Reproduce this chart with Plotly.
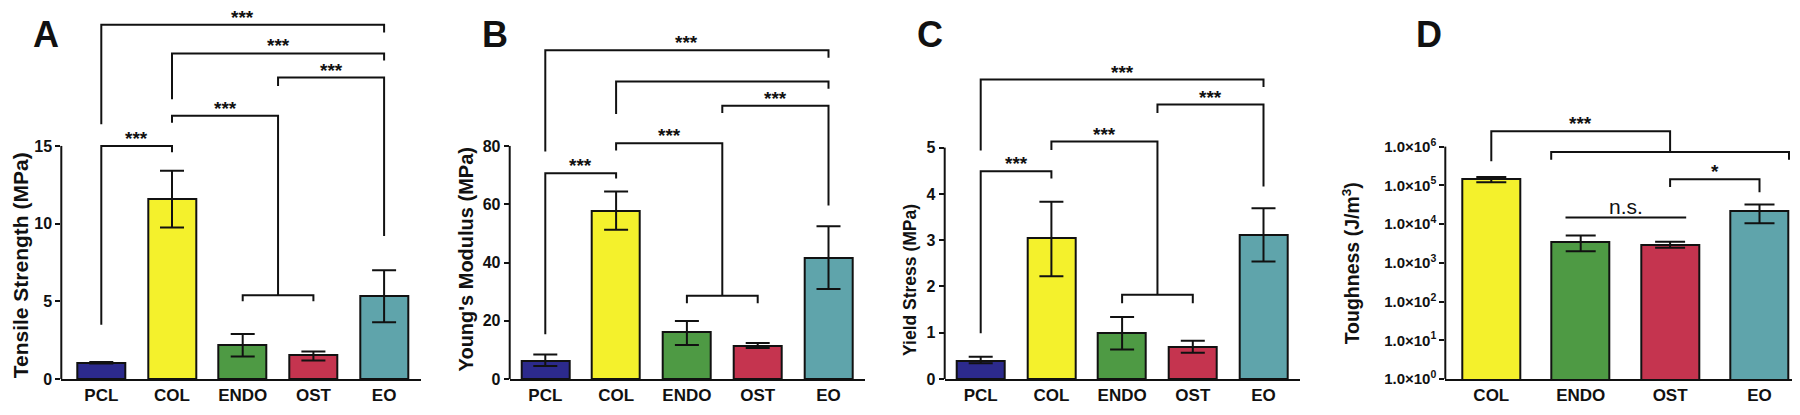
import plotly.graph_objects as go

# ---------------- data ----------------
groups5 = ["PCL", "COL", "ENDO", "OST", "EO"]
groups4 = ["COL", "ENDO", "OST", "EO"]
group_colors = {"PCL": "#2c2a8c", "COL": "#f4f12c", "ENDO": "#4e9a44",
                "OST": "#c5344f", "EO": "#5fa4ab"}

tensile_mean = [1.05, 11.6, 2.2, 1.55, 5.35]
tensile_plus = [0.05, 1.8, 0.7, 0.23, 1.65]
tensile_minus = [0.05, 1.85, 0.75, 0.35, 1.7]

modulus_mean = [6.2, 57.7, 16.0, 11.5, 41.5]
modulus_plus = [2.2, 6.7, 3.9, 0.9, 10.9]
modulus_minus = [1.7, 6.5, 4.3, 0.8, 10.6]

yield_mean = [0.39, 3.04, 0.99, 0.69, 3.11]
yield_plus = [0.09, 0.79, 0.35, 0.14, 0.58]
yield_minus = [0.05, 0.82, 0.35, 0.12, 0.57]

tough_mean = [1.44e5, 3.5e3, 2.9e3, 2.2e4]
tough_upper = [1.65e5, 5.1e3, 3.5e3, 3.2e4]
tough_lower = [1.2e5, 2.0e3, 2.45e3, 1.05e4]

tensile_ticks = [0, 5, 10, 15]
modulus_ticks = [0, 20, 40, 60, 80]
yield_ticks = [0, 1, 2, 3, 4, 5]
tough_ticks = [1e0, 1e1, 1e2, 1e3, 1e4, 1e5, 1e6]
tough_ticktext = ["1.0×10<sup>%d</sup>" % i for i in range(7)]

# significance brackets: (x_left, x_right, y_bar, y_left_end, y_right_end, label)
brackets_A = [(0, 1, 15.0, 3.5, 14.6, "***"),
              (1, 2.5, 16.95, 16.5, 5.4, "***"),
              (2, 3, 5.4, 5.0, 5.0, ""),
              (2.5, 4, 19.4, 18.85, 9.2, "***"),
              (1, 4, 20.95, 18.0, 20.5, "***"),
              (0, 4, 22.8, 16.4, 22.3, "***")]
brackets_B = [(0, 1, 70.6, 15.4, 68.8, "***"),
              (1, 2.5, 80.9, 78.4, 28.6, "***"),
              (2, 3, 28.6, 26.0, 26.0, ""),
              (2.5, 4, 93.8, 91.3, 59.6, "***"),
              (1, 4, 102.1, 91.0, 99.6, ""),
              (0, 4, 112.8, 78.1, 110.3, "***")]
brackets_C = [(0, 1, 4.49, 0.99, 4.33, "***"),
              (1, 2.5, 5.13, 4.95, 1.82, "***"),
              (2, 3, 1.82, 1.64, 1.64, ""),
              (2.5, 4, 5.93, 5.75, 4.16, "***"),
              (0, 4, 6.47, 4.94, 6.31, "***")]
# panel D brackets in decades (log10 units)
brackets_D = [(0, 2, 6.4, 5.62, 5.86, "***"),
              (0.67, 3.33, 5.86, 5.66, 5.66, ""),
              (2, 3, 5.16, 4.96, 4.82, "*")]
ns_line_D = (0.83, 2.18, 4.17, "n.s.")

# ---------------- figure ----------------
W, H = 1800, 415
FONT = "Liberation Sans, Arial, Helvetica, sans-serif"
INK = "#111111"
fig = go.Figure()

def px_x(p):
    return p / W

def px_y(p):
    return 1 - p / H

panels = [
    dict(x="x", y="y", xa="xaxis", ya="yaxis", groups=groups5, mean=tensile_mean,
         plus=tensile_plus, minus=tensile_minus, ticks=tensile_ticks, top=15,
         xpx=(53.3, 413.0), first=93.3, step=70.7, toppx=141.0, bw=0.68, cap=12,
         title="Tensile Strength (MPa)", title_x=12, title_y=263, title_size=21,
         letter="A", letter_x=38, brackets=brackets_A),
    dict(x="x2", y="y2", xa="xaxis2", ya="yaxis2", groups=groups5, mean=modulus_mean,
         plus=modulus_plus, minus=modulus_minus, ticks=modulus_ticks, top=80,
         xpx=(501.7, 856.7), first=537.3, step=70.8, toppx=141.0, bw=0.68, cap=12,
         title="Young's Modulus (MPa)", title_x=458, title_y=257, title_size=20,
         letter="B", letter_x=487, brackets=brackets_B),
    dict(x="x3", y="y3", xa="xaxis3", ya="yaxis3", groups=groups5, mean=yield_mean,
         plus=yield_plus, minus=yield_minus, ticks=yield_ticks, top=5,
         xpx=(936.7, 1291.7), first=972.7, step=70.7, toppx=142.7, bw=0.68, cap=12,
         title="Yield Stress (MPa)", title_x=902, title_y=278, title_size=17.5,
         letter="C", letter_x=922, brackets=brackets_C),
]

ZERO_PX = 379.3
shapes = []
annotations = []

def add_brackets(brs, xref, yref):
    for (xl, xr, yb, yl, yr, lab) in brs:
        path = "M %s,%s L %s,%s L %s,%s L %s,%s" % (xl, yl, xl, yb, xr, yb, xr, yr)
        shapes.append(dict(type="path", path=path, xref=xref, yref=yref,
                           line=dict(color=INK, width=2)))
        if lab:
            annotations.append(dict(x=(xl + xr) / 2, y=yb, xref=xref, yref=yref,
                                    text=lab, showarrow=False, yanchor="bottom",
                                    yshift=-4, borderpad=0,
                                    font=dict(family=FONT, size=19, color=INK,
                                              weight="bold")))

for p in panels:
    n = len(p["groups"])
    fig.add_trace(go.Bar(
        x=list(range(n)), y=p["mean"], xaxis=p["x"], yaxis=p["y"],
        width=p["bw"],
        marker=dict(color=[group_colors[g] for g in p["groups"]],
                    line=dict(color=INK, width=2)),
        error_y=dict(type="data", symmetric=False, array=p["plus"],
                     arrayminus=p["minus"], color=INK, thickness=2,
                     width=p["cap"]),
        showlegend=False))
    x0px, x1px = p["xpx"]
    r0 = (x0px - p["first"]) / p["step"]
    r1 = (x1px - p["first"]) / p["step"]
    ytop = p["top"] * ZERO_PX / (ZERO_PX - p["toppx"])
    fig.update_layout(**{
        p["xa"]: dict(domain=[px_x(x0px), px_x(x1px)], range=[r0, r1],
                      anchor=p["y"], tickvals=list(range(n)), ticktext=p["groups"],
                      showline=True, linewidth=2, linecolor=INK,
                      ticks="", showgrid=False, zeroline=False,
                      tickfont=dict(family=FONT, size=17, color=INK, weight="bold")),
        p["ya"]: dict(domain=[px_y(ZERO_PX), 1], range=[0, ytop], anchor=p["x"],
                      tickvals=p["ticks"], showline=False, ticks="outside",
                      ticklen=5, tickwidth=2, tickcolor=INK,
                      showgrid=False, zeroline=False,
                      tickfont=dict(family=FONT, size=16, color=INK, weight="bold")),
    })
    shapes.append(dict(type="line", xref=p["x"] + " domain", yref=p["y"],
                       x0=0, x1=0, y0=0, y1=p["top"],
                       line=dict(color=INK, width=2)))
    annotations.append(dict(x=px_x(p["title_x"]), y=px_y(p["title_y"]), xref="paper",
                            yref="paper", text=p["title"], textangle=-90,
                            showarrow=False, xanchor="center", yanchor="middle",
                            font=dict(family=FONT, size=p["title_size"], color=INK,
                                      weight="bold")))
    annotations.append(dict(x=px_x(p["letter_x"]), y=px_y(27), xref="paper",
                            yref="paper", text=p["letter"], showarrow=False,
                            xanchor="center", yanchor="middle",
                            font=dict(family=FONT, size=36, color=INK,
                                      weight="bold")))
    add_brackets(p["brackets"], p["x"], p["y"])

# ---- panel D (log scale) ----
nD = len(groups4)
plusD = [u - m for u, m in zip(tough_upper, tough_mean)]
minusD = [m - l for m, l in zip(tough_mean, tough_lower)]
fig.add_trace(go.Bar(
    x=list(range(nD)), y=tough_mean, xaxis="x4", yaxis="y4", width=0.65,
    marker=dict(color=[group_colors[g] for g in groups4],
                line=dict(color=INK, width=2)),
    error_y=dict(type="data", symmetric=False, array=plusD, arrayminus=minusD,
                 color=INK, thickness=2, width=15),
    showlegend=False))
d_first, d_step = 1483.3, 89.4
d_x0, d_x1 = 1437.3, 1796.7
d_toppx = 141.7
d_top = 6 * ZERO_PX / (ZERO_PX - d_toppx)
fig.update_layout(
    xaxis4=dict(domain=[px_x(d_x0), px_x(d_x1)],
                range=[(d_x0 - d_first) / d_step, (d_x1 - d_first) / d_step],
                anchor="y4", tickvals=list(range(nD)), ticktext=groups4,
                showline=True, linewidth=2, linecolor=INK, ticks="",
                showgrid=False, zeroline=False,
                tickfont=dict(family=FONT, size=17, color=INK, weight="bold")),
    yaxis4=dict(domain=[px_y(ZERO_PX), 1], type="log", range=[0, d_top], anchor="x4",
                tickvals=tough_ticks, ticktext=tough_ticktext, showline=False,
                ticks="outside", ticklen=5, tickwidth=2, tickcolor=INK,
                showgrid=False, zeroline=False,
                tickfont=dict(family=FONT, size=15, color=INK, weight="bold")),
    yaxis5=dict(domain=[px_y(ZERO_PX), 1], range=[0, d_top], overlaying="y4",
                anchor="x4", visible=False, showgrid=False, zeroline=False),
)
shapes.append(dict(type="line", xref="x4 domain", yref="y5", x0=0, x1=0, y0=0, y1=6,
                   line=dict(color=INK, width=2)))
add_brackets(brackets_D, "x4", "y5")
xl, xr, yl, lab = ns_line_D
shapes.append(dict(type="line", xref="x4", yref="y5", x0=xl, x1=xr, y0=yl, y1=yl,
                   line=dict(color=INK, width=2)))
annotations.append(dict(x=(xl + xr) / 2, y=yl, xref="x4", yref="y5", text=lab,
                        showarrow=False, yanchor="bottom", yshift=-2,
                        font=dict(family=FONT, size=21, color=INK)))
annotations.append(dict(x=px_x(1343), y=px_y(261), xref="paper",
                        yref="paper", text="Toughness (J/m<sup>3</sup>)", textangle=-90,
                        showarrow=False, xanchor="center", yanchor="middle",
                        font=dict(family=FONT, size=19.5, color=INK, weight="bold")))
annotations.append(dict(x=px_x(1421), y=px_y(27), xref="paper", yref="paper",
                        text="D", showarrow=False, xanchor="center", yanchor="middle",
                        font=dict(family=FONT, size=36, color=INK, weight="bold")))

fig.update_layout(width=W, height=H, margin=dict(l=0, r=0, t=0, b=0),
                  paper_bgcolor="white", plot_bgcolor="white",
                  shapes=shapes, annotations=annotations, bargap=0)
fig.write_html("out.html")
